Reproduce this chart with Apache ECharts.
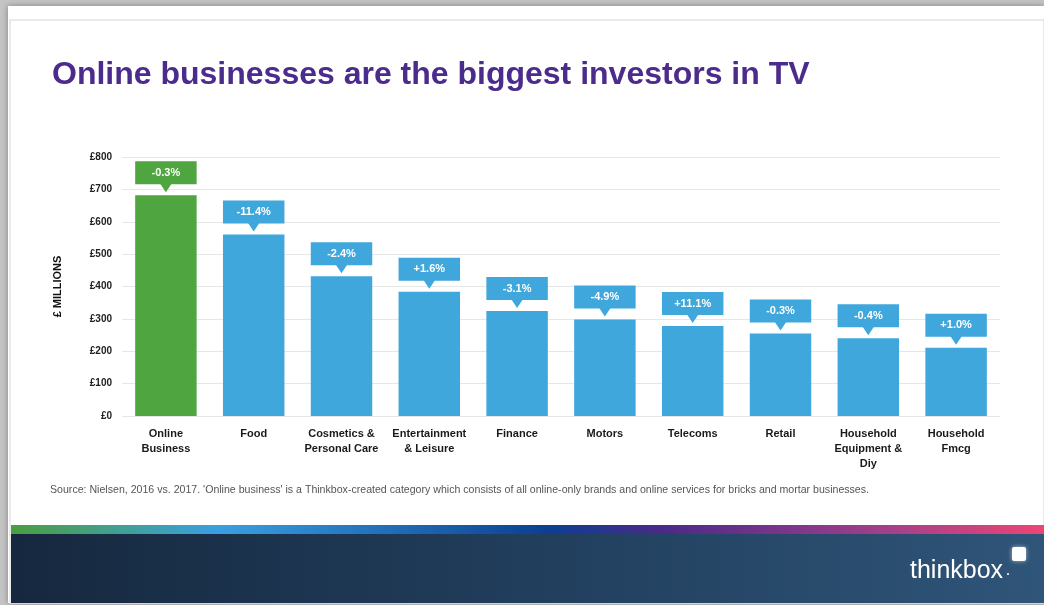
<!DOCTYPE html>
<html>
<head>
<meta charset="utf-8">
<script src="https://cdn.jsdelivr.net/npm/echarts@6/dist/echarts.min.js"></script>
<style>
  html, body { margin: 0; padding: 0; background: #c4c4c4; }
  #chart { width: 1044px; height: 605px; }
</style>
</head>
<body>
<div id="chart"></div>
<script>
// TV investment by advertiser category, £ millions (2017), with change vs 2016
const categories = [
  'Online\nBusiness', 'Food', 'Cosmetics &\nPersonal Care', 'Entertainment\n& Leisure',
  'Finance', 'Motors', 'Telecoms', 'Retail', 'Household\nEquipment &\nDiy', 'Household\nFmcg'
];
const spend = [682, 561, 432, 384, 324, 298, 278, 255, 240, 211];
const yearChange = ['-0.3%', '-11.4%', '-2.4%', '+1.6%', '-3.1%', '-4.9%', '+11.1%', '-0.3%', '-0.4%', '+1.0%'];
const yTicks = [0, 100, 200, 300, 400, 500, 600, 700, 800];

const GREEN = '#4fa540';
const BLUE = '#3fa7dc';
const FONT = '"Liberation Sans", Arial, sans-serif';

const chart = echarts.init(document.getElementById('chart'), null, { renderer: 'canvas' });

const barColor = i => (i === 0 ? GREEN : BLUE);

chart.setOption({
  backgroundColor: '#c4c4c4',
  animation: false,
  grid: { left: 122, right: 44, top: 157, bottom: 189, containLabel: false },
  xAxis: {
    type: 'category',
    data: categories,
    axisLine: { show: false },
    axisTick: { show: false },
    axisLabel: {
      interval: 0,
      margin: 10,
      color: '#1a1a1a',
      fontFamily: FONT,
      fontWeight: 'bold',
      fontSize: 11,
      lineHeight: 15
    }
  },
  yAxis: {
    type: 'value',
    min: yTicks[0],
    max: yTicks[yTicks.length - 1],
    interval: 100,
    name: '£ MILLIONS',
    nameLocation: 'middle',
    nameGap: 59,
    nameTextStyle: { color: '#111', fontFamily: FONT, fontWeight: 'bold', fontSize: 11 },
    axisLine: { show: false },
    axisTick: { show: false },
    splitLine: { lineStyle: { color: '#e6e6e6', width: 1 } },
    axisLabel: {
      margin: 10,
      color: '#222',
      fontFamily: FONT,
      fontWeight: 'bold',
      fontSize: 10,
      formatter: v => '£' + v
    }
  },
  series: [
    {
      type: 'bar',
      barCategoryGap: '30%',
      data: spend.map((v, i) => ({ value: v, itemStyle: { color: barColor(i) } })),
      z: 3
    },
    {
      // callout boxes with a pointer, anchored to each bar's top
      type: 'custom',
      data: spend.map((v, i) => [i, v]),
      encode: { x: 0, y: 1 },
      z: 4,
      renderItem: function (params, api) {
        const i = api.value(0);
        const p = api.coord([i, api.value(1)]);
        const w = api.size([1, 0])[0] * 0.7;
        const x0 = p[0] - w / 2;
        const boxBottom = p[1] - 11;
        const boxTop = boxBottom - 23;
        const color = barColor(i);
        return {
          type: 'group',
          children: [
            { type: 'rect', shape: { x: x0, y: boxTop, width: w, height: boxBottom - boxTop }, style: { fill: color } },
            { type: 'polygon', shape: { points: [[p[0] - 6, boxBottom - 1], [p[0] + 6, boxBottom - 1], [p[0], p[1] - 3]] }, style: { fill: color } },
            {
              type: 'text',
              style: {
                x: p[0], y: (boxTop + boxBottom) / 2,
                text: yearChange[i],
                fill: '#fff', align: 'center', verticalAlign: 'middle',
                font: 'bold 11px ' + FONT
              }
            }
          ]
        };
      }
    }
  ],
  graphic: [
    // slide surface
    { type: 'rect', z: -10, shape: { x: 8, y: 6, width: 1036, height: 597 },
      style: { fill: '#ffffff', shadowBlur: 6, shadowColor: 'rgba(0,0,0,0.35)' } },
    { type: 'rect', z: -9, shape: { x: 10, y: 20, width: 1034, height: 583 },
      style: { fill: '#ffffff', stroke: '#e4e4e4', lineWidth: 1.5 } },
    // title
    { type: 'text', left: 52, top: 59, z: 10,
      style: { text: 'Online businesses are the biggest investors in TV', fill: '#4b2c8c',
               font: 'bold 32px ' + FONT } },
    // source note
    { type: 'text', left: 50, top: 485, z: 10,
      style: { text: "Source: Nielsen, 2016 vs. 2017. 'Online business' is a Thinkbox-created category which consists of all online-only brands and online services for bricks and mortar businesses.",
               fill: '#555', font: '10.6px ' + FONT } },
    // colour strip
    { type: 'rect', z: 5, shape: { x: 11, y: 525, width: 1033, height: 9 },
      style: { fill: new echarts.graphic.LinearGradient(0, 0, 1, 0, [
        { offset: 0, color: '#4a9e3f' },
        { offset: 0.2, color: '#3aa0e0' },
        { offset: 0.52, color: '#0b3f91' },
        { offset: 0.63, color: '#4a2a88' },
        { offset: 0.85, color: '#a4408a' },
        { offset: 1, color: '#ec4672' }
      ]) } },
    // footer band
    { type: 'rect', z: 5, shape: { x: 11, y: 534, width: 1033, height: 69 },
      style: { fill: new echarts.graphic.LinearGradient(0, 0, 1, 0, [
        { offset: 0, color: '#16283f' },
        { offset: 0.5, color: '#213e5c' },
        { offset: 1, color: '#2f5579' }
      ]) } },
    // logo
    { type: 'text', left: 910, top: 559, z: 6,
      style: { text: 'thinkbox', fill: '#ffffff', font: '25px ' + FONT } },
    { type: 'rect', z: 6, shape: { x: 1012, y: 547, width: 14, height: 14, r: 2 },
      style: { fill: '#ffffff', shadowBlur: 4, shadowColor: 'rgba(255,255,255,0.6)' } },
    { type: 'circle', z: 6, shape: { cx: 1008, cy: 574, r: 1 }, style: { fill: '#ffffff' } }
  ]
});
</script>
</body>
</html>
